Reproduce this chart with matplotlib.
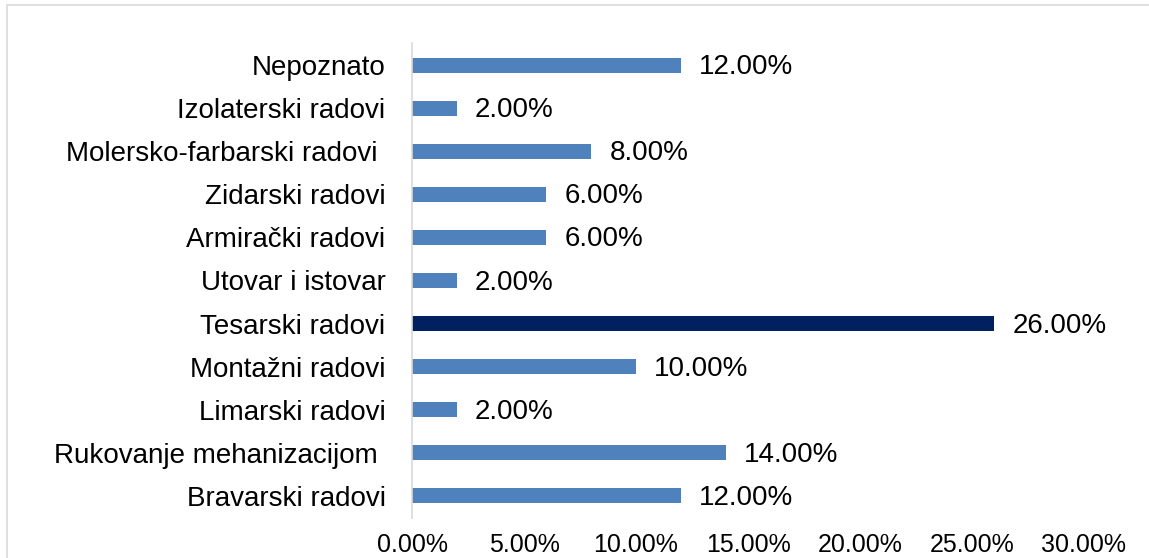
import matplotlib
matplotlib.use("Agg")
import matplotlib.pyplot as plt
from matplotlib.patches import Rectangle

categories = ["Bravarski radovi", "Rukovanje mehanizacijom ", "Limarski radovi",
              "Montažni radovi", "Tesarski radovi", "Utovar i istovar",
              "Armirački radovi", "Zidarski radovi", "Molersko-farbarski radovi ",
              "Izolaterski radovi", "Nepoznato"]
values = [12, 14, 2, 10, 26, 2, 6, 6, 8, 2, 12]
highlight = "Tesarski radovi"
xticks = [0, 5, 10, 15, 20, 25, 30]

plt.rcParams['font.family'] = ['Liberation Sans', 'DejaVu Sans']

W, H = 1149, 558
fig = plt.figure(figsize=(W / 100, H / 100), dpi=100)
fig.patches.append(Rectangle((7 / W, -0.1), 1.2, (H - 5) / H + 0.1,
                             transform=fig.transFigure, fill=False,
                             edgecolor='#D9D9D9', linewidth=1.2))

ax = fig.add_axes([412 / W, 40.5 / H, 672 / W, 474 / H])
colors = ['#002060' if c == highlight else '#4F81BD' for c in categories]
ax.barh(range(len(categories)), values, height=0.35, color=colors)
ax.set_ylim(-0.5, len(categories) - 0.5)
ax.set_xlim(0, 30)
ax.set_yticks(range(len(categories)))
ax.set_yticklabels(categories, fontsize=20)
ax.set_xticks(xticks)
ax.set_xticklabels([f"{t:.2f}%" for t in xticks], fontsize=18)
ax.tick_params(axis='both', length=0)
ax.tick_params(axis='y', pad=19)
ax.tick_params(axis='x', pad=11)
for s in ['top', 'right', 'bottom']:
    ax.spines[s].set_visible(False)
ax.spines['left'].set_color('#D9D9D9')
ax.spines['left'].set_linewidth(1.2)

for i, v in enumerate(values):
    ax.annotate(f"{v:.2f}%", xy=(v, i), xytext=(13, -1.5), textcoords='offset points',
                va='center', ha='left', fontsize=20)

fig.savefig("out.png", dpi=100)
